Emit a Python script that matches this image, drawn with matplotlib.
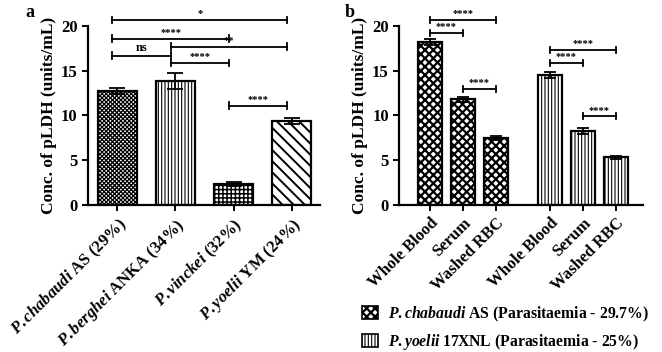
import numpy as np
import matplotlib
matplotlib.use("Agg")
import matplotlib.pyplot as plt
from matplotlib.patches import Patch

plt.rcParams['font.family'] = ['Liberation Serif', 'DejaVu Serif']
plt.rcParams['font.weight'] = 'bold'
plt.rcParams['mathtext.fontset'] = 'custom'
plt.rcParams['mathtext.it'] = 'Liberation Serif:italic:bold'
plt.rcParams['mathtext.rm'] = 'Liberation Serif:bold'
plt.rcParams['hatch.linewidth'] = 1.0

# Panel a data
strains = [r'$\mathit{P.chabaudi}$ AS (29%)', r'$\mathit{P.berghei}$ ANKA (34%)',
           r'$\mathit{P.vinckei}$ (32%)', r'$\mathit{P.yoelii}$ YM (24%)']
a_vals = [12.7, 13.85, 2.35, 9.42]
a_err = [0.35, 0.9, 0.25, 0.35]
a_hatch = ['xxxxxxxx', '|||||', '++++', '\\\\\\']
a_hlw = [0.9, 0.8, 1.1, 1.4]
# (bar i, bar j, height, text)
a_sig = [(0, 3, 20.7, '*'), (0, 2, 18.6, '****'), (1, 3, 17.7, '**'),
         (0, 1, 16.7, 'ns'), (1, 2, 15.9, '****'), (2, 3, 11.1, '****')]

# Panel b data
samples = ['Whole Blood', 'Serum', 'Washed RBC']
b_pos = [0, 1, 2, 3.65, 4.65, 5.65]
b_vals = [18.2, 11.8, 7.45, 14.5, 8.27, 5.3]
b_err = [0.3, 0.3, 0.25, 0.35, 0.3, 0.17]
b_hatch = ['xxxx', 'xxxx', 'xxxx', '|||||', '|||||', '|||||']
b_hlw = [1.6, 1.6, 1.6, 0.8, 0.8, 0.8]
b_sig = [(0, 2, 20.7, '****'), (0, 1, 19.2, '****'), (1, 2, 13.0, '****'),
         (3, 5, 17.3, '****'), (3, 4, 15.9, '****'), (4, 5, 9.9, '****')]
legend_labels = [r'$\mathit{P.chabaudi}$ AS (Parasitaemia - 29.7%)',
                 r'$\mathit{P.yoelii}$ 17XNL (Parasitaemia - 25%)']

fig = plt.figure(figsize=(6.62, 3.52), dpi=100)
ax1 = fig.add_axes([0.133, 0.418, 0.350, 0.508])
ax2 = fig.add_axes([0.603, 0.418, 0.368, 0.508])


def set_hlw(p, lw):
    if hasattr(p, 'set_hatch_linewidth'):
        p.set_hatch_linewidth(lw)


def style_axis(ax):
    ax.spines['top'].set_visible(False)
    ax.spines['right'].set_visible(False)
    for s in ['left', 'bottom']:
        ax.spines[s].set_linewidth(1.6)
    ax.tick_params(width=1.4, length=4, labelsize=12)
    ax.set_ylim(0, 20)
    ax.set_yticks([0, 5, 10, 15, 20])
    ax.set_ylabel('Conc. of pLDH (units/mL)', fontsize=12.5, fontweight='bold', labelpad=3)


def bracket(ax, x1, x2, y, txt):
    kw = dict(color='black', lw=1.3, clip_on=False)
    ax.plot([x1, x2], [y, y], **kw)
    ax.plot([x1, x1], [y - 0.35, y + 0.35], **kw)
    ax.plot([x2, x2], [y - 0.35, y + 0.35], **kw)
    fs = 9 if txt == 'ns' else 7.5
    ax.text((x1 + x2) / 2, y + 0.2, txt, ha='center', va='bottom',
            fontsize=fs, fontweight='bold', clip_on=False)


# panel a
xa = np.arange(len(a_vals))
for i in range(len(a_vals)):
    b = ax1.bar(xa[i], a_vals[i], width=0.67, color='white', edgecolor='black',
                linewidth=1.6, hatch=a_hatch[i], zorder=2)
    set_hlw(b[0], a_hlw[i])
ax1.errorbar(xa, a_vals, yerr=a_err, fmt='none', ecolor='black', elinewidth=1.3,
             capsize=6, capthick=1.3, zorder=3)
ax1.set_xlim(-0.5, 3.48)
ax1.set_xticks(xa)
ax1.set_xticklabels(strains, rotation=45, ha='right', rotation_mode='anchor', fontsize=12)
style_axis(ax1)
for i, j, y, t in a_sig:
    bracket(ax1, xa[i] - 0.08, xa[j] - 0.08, y, t)
fig.text(0.039, 0.952, 'a', fontsize=13, fontweight='bold', va='baseline')

# panel b
for i in range(len(b_vals)):
    b = ax2.bar(b_pos[i], b_vals[i], width=0.72, color='white', edgecolor='black',
                linewidth=1.6, hatch=b_hatch[i], zorder=2)
    set_hlw(b[0], b_hlw[i])
ax2.errorbar(b_pos, b_vals, yerr=b_err, fmt='none', ecolor='black', elinewidth=1.3,
             capsize=4, capthick=1.3, zorder=3)
ax2.set_xlim(-0.94, 6.47)
ax2.set_xticks(b_pos)
ax2.set_xticklabels(samples * 2, rotation=45, ha='right', rotation_mode='anchor', fontsize=12)
style_axis(ax2)
for i, j, y, t in b_sig:
    bracket(ax2, b_pos[i], b_pos[j], y, t)
fig.text(0.52, 0.952, 'b', fontsize=13, fontweight='bold', va='baseline')

handles = [Patch(facecolor='white', edgecolor='black', hatch=b_hatch[0], linewidth=1.2),
           Patch(facecolor='white', edgecolor='black', hatch=b_hatch[3], linewidth=1.2)]
leg = fig.legend(handles, legend_labels, loc='upper left', bbox_to_anchor=(0.538, 0.153),
                 frameon=False, fontsize=11.3, handlelength=1.0, handleheight=0.9,
                 labelspacing=0.55, handletextpad=0.6, borderaxespad=0)
for p, lw in zip(leg.get_patches(), [1.6, 0.8]):
    set_hlw(p, lw)

fig.savefig('out.png', dpi=100)
